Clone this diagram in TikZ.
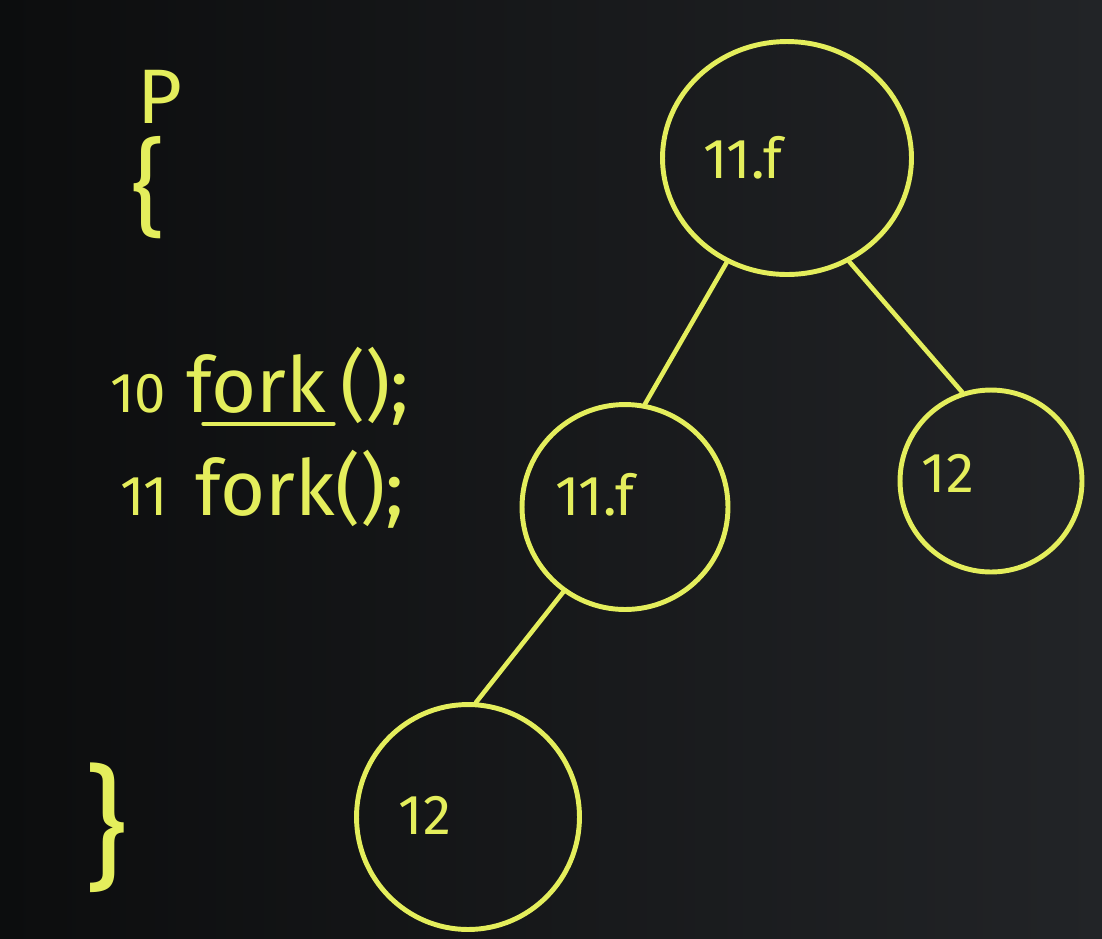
\documentclass[tikz,border=0pt]{standalone}
\usepackage{fontspec}
\setmainfont{Fira Sans}
\usetikzlibrary{shapes.geometric}
\definecolor{chalk}{RGB}{228,238,92}
\definecolor{boardL}{RGB}{12,13,14}
\definecolor{boardR}{RGB}{34,36,39}

\begin{document}
\begin{tikzpicture}[x=0.02cm, y=-0.02cm,
    proc/.style={draw=chalk, ellipse, line width=2.8pt, inner sep=0pt},
    lbl/.style={text=chalk, inner sep=0pt, font=\fontsize{32}{36}\selectfont},
    code/.style={text=chalk, inner sep=0pt, anchor=base west, font=\fontsize{44}{50}\selectfont},
    lineno/.style={code, font=\fontsize{32}{36}\selectfont},
    brace/.style={text=chalk, inner sep=0pt},
    edge/.style={draw=chalk, line width=2.6pt, line cap=round}]
    \shade[left color=boardL, right color=boardR] (0,0) rectangle (1102,938) ;
    \useasboundingbox (0,0) rectangle (1102,938) ;

    % program text
    \node[brace, font=\fontsize{44}{50}\selectfont] (pname) at (160,97) {P} ;
    \node[brace, font=\fontsize{60}{66}\selectfont] (lbrace) at (148,188) {\{} ;
    \node[lineno] (n10) at (110,412) {10} ;
    \node[code] (f10) at (186,412) {fork} ;
    \node[code] (r10) at (340,412) {();} ;
    \draw[edge] ([xshift=10pt, yshift=-6pt]f10.south west) -- ([xshift=4pt, yshift=-6pt]f10.south east) ;
    \node[lineno] (n11) at (120,515) {11} ;
    \node[code] (f11) at (195,515) {fork();} ;
    \node[brace, font=\fontsize{76}{80}\selectfont] (rbrace) at (106,828) {\}} ;

    % process tree
    \node[proc, minimum width=4.98cm, minimum height=4.66cm] (root) at (787,158) {} ;
    \node[proc, minimum width=4.12cm, minimum height=4.10cm] (child) at (625,507) {} ;
    \node[proc, minimum width=3.64cm, minimum height=3.64cm] (right) at (991,481) {} ;
    \node[proc, minimum width=4.46cm, minimum height=4.50cm] (grand) at (468,817) {} ;

    \node[lbl] (rootlbl) at (743,158) {11.f} ;
    \node[lbl] (childlbl) at (595,495) {11.f} ;
    \node[lbl] (rightlbl) at (948,473) {12} ;
    \node[lbl] (grandlbl) at (425,815) {12} ;

    \draw[edge] (root.240) -- (child.79) ;
    \draw[edge] (root.301) -- (right.108) ;
    \draw[edge] (child.234) -- (grand.86) ;
\end{tikzpicture}
\end{document}
